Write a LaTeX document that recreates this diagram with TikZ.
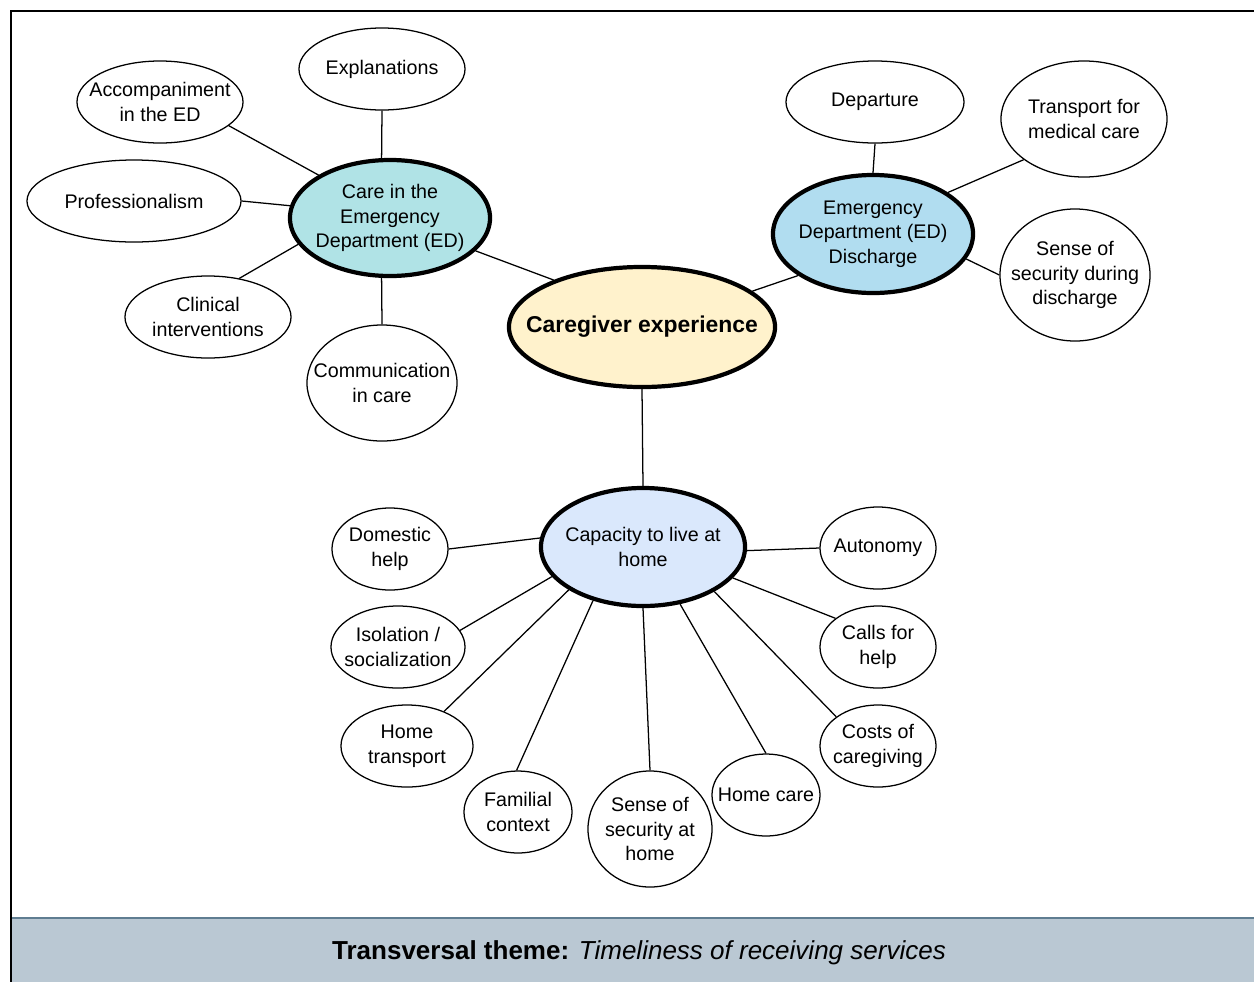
\documentclass[tikz,border=0pt]{standalone}
\usepackage{fontspec}
\setmainfont{Liberation Sans}
\usetikzlibrary{shapes.geometric}

\definecolor{coreyellow}{HTML}{FFF2CC}
\definecolor{careteal}{HTML}{B0E3E6}
\definecolor{dischblue}{HTML}{B1DDF0}
\definecolor{homeblue}{HTML}{DAE8FC}
\definecolor{bandgrey}{HTML}{BAC8D3}
\definecolor{bandline}{HTML}{5F7D91}

\tikzset{
	leaf/.style={ellipse, draw, line width=0.9pt, fill=white, inner sep=-80pt, align=center, font=\fontsize{14}{17.5}\selectfont},
	hub/.style={leaf, line width=3pt},
	link/.style={line width=0.9pt},
	sz/.style 2 args={minimum width=#1*0.05cm, minimum height=#2*0.05cm}
}

\begin{document}
\begin{tikzpicture}[x=0.025cm, y=-0.025cm]
		\useasboundingbox (0,0) rectangle (1254,981);
		\fill[bandgrey] (11,918) rectangle (1270,995);
		\draw[bandline, line width=1.2pt] (11,918) -- (1270,918);
		\draw[line width=1pt] (11,995) -- (11,11) -- (1270,11);
		\node (theme) at (639,953) {\fontsize{18.5}{22}\selectfont\textbf{Transversal theme:} \textit{Timeliness of receiving services}};
		
		\node[hub, fill=coreyellow, sz={133}{60}, font=\fontsize{16.3}{20}\selectfont\bfseries] (core) at (642,327) {Caregiver experience};
		
		\node[hub, fill=careteal, sz={100}{58}] (care) at (390,218) {Care in the\\Emergency\\Department (ED)};
		\node[leaf, sz={83}{41}] (expl) at (382,69) {Explanations};
		\node[leaf, sz={83}{41}] (accomp) at (160,102) {Accompaniment\\in the ED};
		\node[leaf, sz={107}{41}] (prof) at (134,201) {Professionalism};
		\node[leaf, sz={83}{41}] (clin) at (208,317) {Clinical\\interventions};
		\node[leaf, sz={75}{58}] (comm) at (382,383) {Communication\\in care};
		
		\node[hub, fill=dischblue, sz={100}{59}] (disch) at (873,234) {Emergency\\Department (ED)\\Discharge};
		\node[leaf, sz={89}{41}] (depart) at (875,102) {Departure};
		\node[leaf, sz={83}{58}] (transp) at (1084,119) {Transport for\\medical care};
		\node[leaf, sz={75}{66}] (secdis) at (1075,275) {Sense of\\security during\\discharge};
		
		\node[hub, fill=homeblue, sz={102}{59}] (home) at (643,547) {Capacity to live at\\home};
		\node[leaf, sz={58}{41}] (domest) at (390,549) {Domestic\\help};
		\node[leaf, sz={67}{41}] (isol) at (398,647) {Isolation /\\socialization};
		\node[leaf, sz={66}{41}] (htrans) at (407,746) {Home\\transport};
		\node[leaf, sz={54}{41}] (famil) at (518,812) {Familial\\context};
		\node[leaf, sz={62}{58}] (sechome) at (650,829) {Sense of\\security at\\home};
		\node[leaf, sz={54}{41}] (hcare) at (766,795) {Home care};
		\node[leaf, sz={58}{41}] (costs) at (878,746) {Costs of\\caregiving};
		\node[leaf, sz={58}{41}] (calls) at (878,647) {Calls for\\help};
		\node[leaf, sz={58}{41}] (auton) at (878,548) {Autonomy};
		
		\begin{scope}[link]
			\draw (care.98) -- (expl.270);
			\draw (care.149.5) -- (accomp.341);
			\draw (care.173) -- (prof.0);
			\draw (care.196) -- (clin.51);
			\draw (care.262) -- (comm.90);
			\draw (care.339.6) -- (core.152);
			\draw (disch.90) -- (depart.270);
			\draw (disch.29.6) -- (transp.214.8);
			\draw (disch.345) -- (secdis.180);
			\draw (core.18.7) -- (disch.209.6);
			\draw (core.270) -- (home.90);
			\draw (home.175) -- (domest.0);
			\draw (home.198.8) -- (isol.15.3);
			\draw (home.210.5) -- (htrans.43);
			\draw (home.227.2) -- (famil.92);
			\draw (home.270) -- (sechome.90);
			\draw (home.303) -- (hcare.90);
			\draw (home.328.8) -- (costs.145);
			\draw (home.341) -- (calls.146);
			\draw (home.358) -- (auton.180);
		\end{scope}
	\end{tikzpicture}
\end{document}
